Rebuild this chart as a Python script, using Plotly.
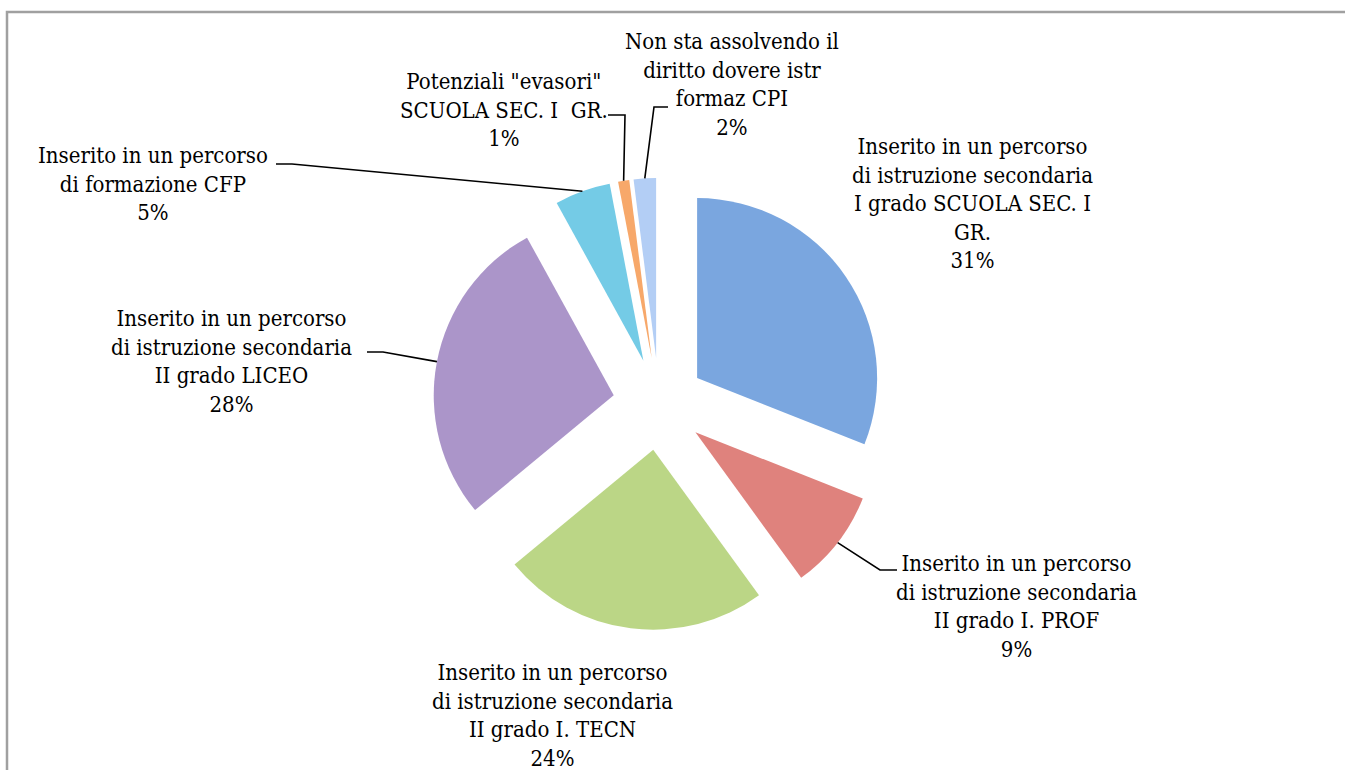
import math
import plotly.graph_objects as go

# Category labels (as shown next to each slice) and their shares in percent
labels = [
    "Inserito in un percorso<br>di istruzione secondaria<br>I grado SCUOLA SEC. I<br>GR.",
    "Inserito in un percorso<br>di istruzione secondaria<br>II grado I. PROF",
    "Inserito in un percorso<br>di istruzione secondaria<br>II grado I. TECN",
    "Inserito in un percorso<br>di istruzione secondaria<br>II grado LICEO",
    "Inserito in un percorso<br>di formazione CFP",
    "Potenziali \"evasori\"<br>SCUOLA SEC. I  GR.",
    "Non sta assolvendo il<br>diritto dovere istr<br>formaz CPI",
]
values = [31, 9, 24, 28, 5, 1, 2]
colors = ["#7aa6df", "#df827d", "#bbd686", "#ab95c9", "#74cbe6", "#f7a86a", "#b3cef5"]

# Canvas and pie geometry (pixels)
W, H = 1345, 770
CX, CY = 659, 404        # pie centre
R = 180                  # slice radius
PULL = 0.256             # explode fraction of radius

# Label block centres (pixels) and optional leader-line elbows
label_pos = [
    (973, 203), (1016, 606), (552, 715), (231, 361),
    (153, 184), (504, 110), (732, 85),
]
elbows = [
    None,
    [(897, 570), (880, 570)],
    None,
    [(367, 352), (383, 352)],
    [(276, 164), (292, 164)],
    [(608, 115), (625, 115)],
    [(668, 107), (654, 107)],
]

half = R * (1 + PULL)
fig = go.Figure(go.Pie(
    labels=[l.replace("<br>", " ") for l in labels],
    values=values,
    sort=False,
    direction="clockwise",
    rotation=0,
    pull=[PULL] * len(values),
    marker=dict(colors=colors, line=dict(width=0)),
    textinfo="none",
    hoverinfo="label+percent",
    showlegend=False,
    domain=dict(x=[(CX - half) / W, (CX + half) / W],
                y=[1 - (CY + half) / H, 1 - (CY - half) / H]),
))

def px(x, y):
    return x / W, 1 - y / H

font = dict(family="DejaVu Serif Condensed, DejaVu Serif, serif", size=22, color="#000000")
total = sum(values)
cum = 0.0
shapes = []
annotations = []
for lab, v, pos, elb in zip(labels, values, label_pos, elbows):
    mid = (cum + v / 2) / total * 2 * math.pi
    cum += v
    dx, dy = math.sin(mid), -math.cos(mid)
    # outer-edge midpoint of the exploded slice
    ex = CX + (R * PULL + R) * dx
    ey = CY + (R * PULL + R) * dy
    ax, ay = px(*pos)
    annotations.append(dict(
        x=ax, y=ay, xref="paper", yref="paper", xanchor="center", yanchor="middle",
        text=f"{lab}<br>{v}%", showarrow=False, align="center", font=font,
    ))
    if elb:
        pts = elb + [(ex, ey)]
        path = "M " + " L ".join(f"{px(x, y)[0]},{px(x, y)[1]}" for x, y in pts)
        shapes.append(dict(type="path", xref="paper", yref="paper", path=path,
                           line=dict(color="#000000", width=1.6)))

# Outer chart frame
shapes.append(dict(type="rect", xref="paper", yref="paper",
                   x0=7 / W, x1=1.02, y0=-0.02, y1=1 - 12 / H,
                   line=dict(color="#a0a0a0", width=2.5)))

fig.update_layout(
    width=W, height=H,
    margin=dict(l=0, r=0, t=0, b=0),
    paper_bgcolor="#ffffff",
    plot_bgcolor="#ffffff",
    annotations=annotations,
    shapes=shapes,
)

fig.write_html("out.html")
